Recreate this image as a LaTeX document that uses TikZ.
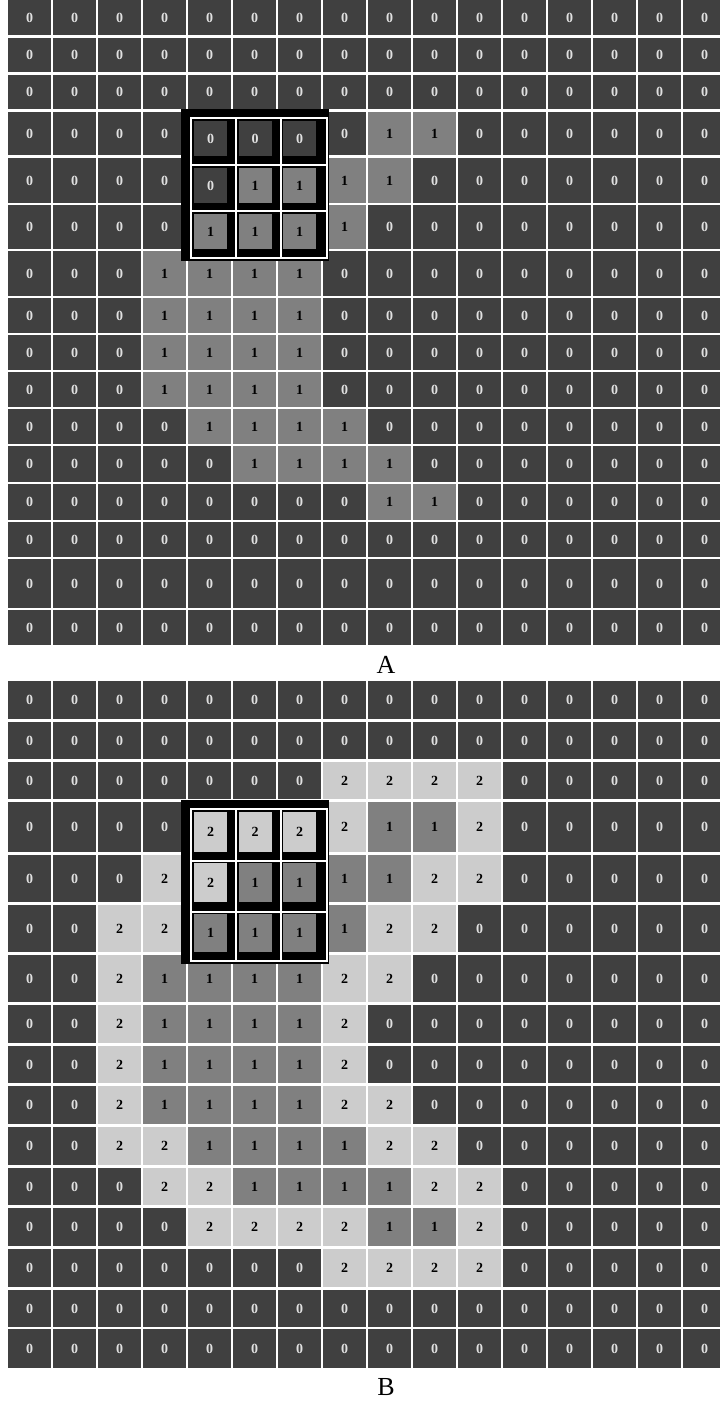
\documentclass[tikz,border=0pt]{standalone}
\usepackage{fontspec}
\setmainfont{Liberation Serif}
\definecolor{fill0}{HTML}{404040}
\definecolor{fill1}{HTML}{808080}
\definecolor{fill2}{HTML}{CCCCCC}
\definecolor{ink0}{HTML}{E0E0E0}
\definecolor{ink1}{HTML}{000000}
\definecolor{ink2}{HTML}{000000}
\newcommand\grabrow[1]{#1}
\tikzset{
  cell/.style={rectangle, inner sep=0pt, anchor=north west, minimum width=43pt,
    font=\fontsize{14}{14}\selectfont\bfseries},
  kcell/.style={cell, minimum width=33pt},
  kframe/.style={white, line width=1.4pt},
  gridlabel/.style={font=\fontsize{26}{26}\selectfont}
}
\begin{document}
\begin{tikzpicture}[x=1pt,y=-1pt]
\fill[white] (0,0) rectangle (720,1403);
\useasboundingbox (0,0) rectangle (720,1403);

% grid A (cells under the kernel are left out)
\foreach \t/\b/\vals [count=\r from 0] in {
  0/35/{0,0,0,0,0,0,0,0,0,0,0,0,0,0,0,0},
  38/72/{0,0,0,0,0,0,0,0,0,0,0,0,0,0,0,0},
  75/109/{0,0,0,0,0,0,0,0,0,0,0,0,0,0,0,0},
  112/155/{0,0,0,0,0,0,0,0,1,1,0,0,0,0,0,0},
  158/203/{0,0,0,0,0,1,1,1,1,0,0,0,0,0,0,0},
  205/249/{0,0,0,0,1,1,1,1,0,0,0,0,0,0,0,0},
  251/296/{0,0,0,1,1,1,1,0,0,0,0,0,0,0,0,0},
  298/333/{0,0,0,1,1,1,1,0,0,0,0,0,0,0,0,0},
  335/370/{0,0,0,1,1,1,1,0,0,0,0,0,0,0,0,0},
  372/407/{0,0,0,1,1,1,1,0,0,0,0,0,0,0,0,0},
  409/444/{0,0,0,0,1,1,1,1,0,0,0,0,0,0,0,0},
  446/482/{0,0,0,0,0,1,1,1,1,0,0,0,0,0,0,0},
  484/520/{0,0,0,0,0,0,0,0,1,1,0,0,0,0,0,0},
  522/557/{0,0,0,0,0,0,0,0,0,0,0,0,0,0,0,0},
  559/608/{0,0,0,0,0,0,0,0,0,0,0,0,0,0,0,0},
  610/645/{0,0,0,0,0,0,0,0,0,0,0,0,0,0,0,0}}{
  \edef\rowvals{\expandafter\grabrow\vals}
  \foreach \x [count=\c from 0, evaluate=\x as \v using int(\x)] in \rowvals {
    \pgfmathtruncatemacro\hidden{and(\r>2,\r<6)*and(\c>3,\c<7)}
    \ifnum\hidden=0
      \node[cell, fill=fill\v, text=ink\v, minimum height=\b-\t] (a-\r-\c) at ({8+45*\c},\t) {\v};
    \fi
  }
}

% kernel over A
\fill[black] (181,109) rectangle (329,261);
\draw[kframe] (191,118) rectangle (327,258);
\draw[kframe] (236,118) -- (236,258) (281,118) -- (281,258)
  (191,165) -- (327,165) (191,211) -- (327,211);
\foreach \kr/\kt/\kh/\vals in {0/121/35/{0,0,0}, 1/168/35/{0,1,1}, 2/214/35/{1,1,1}}{
  \edef\rowvals{\expandafter\grabrow\vals}
  \foreach \x [count=\kc from 0, evaluate=\x as \v using int(\x)] in \rowvals
    \node[kcell, fill=fill\v, text=ink\v, minimum height=\kh] (ka-\kr-\kc) at ({194+44.5*\kc},\kt) {\v};
}

\node[gridlabel] (labA) at (386,665) {A};

% grid B (cells under the kernel are left out)
\foreach \t/\b/\vals [count=\r from 0] in {
  681/719/{0,0,0,0,0,0,0,0,0,0,0,0,0,0,0,0},
  722/759/{0,0,0,0,0,0,0,0,0,0,0,0,0,0,0,0},
  762/799/{0,0,0,0,0,0,0,2,2,2,2,0,0,0,0,0},
  802/852/{0,0,0,0,2,2,2,2,1,1,2,0,0,0,0,0},
  855/902/{0,0,0,2,2,1,1,1,1,2,2,0,0,0,0,0},
  905/952/{0,0,2,2,1,1,1,1,2,2,0,0,0,0,0,0},
  955/1002/{0,0,2,1,1,1,1,2,2,0,0,0,0,0,0,0},
  1005/1043/{0,0,2,1,1,1,1,2,0,0,0,0,0,0,0,0},
  1046/1083/{0,0,2,1,1,1,1,2,0,0,0,0,0,0,0,0},
  1086/1124/{0,0,2,1,1,1,1,2,2,0,0,0,0,0,0,0},
  1127/1165/{0,0,2,2,1,1,1,1,2,2,0,0,0,0,0,0},
  1168/1205/{0,0,0,2,2,1,1,1,1,2,2,0,0,0,0,0},
  1208/1246/{0,0,0,0,2,2,2,2,1,1,2,0,0,0,0,0},
  1249/1287/{0,0,0,0,0,0,0,2,2,2,2,0,0,0,0,0},
  1290/1327/{0,0,0,0,0,0,0,0,0,0,0,0,0,0,0,0},
  1329/1368/{0,0,0,0,0,0,0,0,0,0,0,0,0,0,0,0}}{
  \edef\rowvals{\expandafter\grabrow\vals}
  \foreach \x [count=\c from 0, evaluate=\x as \v using int(\x)] in \rowvals {
    \pgfmathtruncatemacro\hidden{and(\r>2,\r<6)*and(\c>3,\c<7)}
    \ifnum\hidden=0
      \node[cell, fill=fill\v, text=ink\v, minimum height=\b-\t] (b-\r-\c) at ({8+45*\c},\t) {\v};
    \fi
  }
}

% kernel over B
\fill[black] (181,800) rectangle (329,964);
\draw[kframe] (191,809) rectangle (327,961);
\draw[kframe] (236,809) -- (236,961) (281,809) -- (281,961)
  (191,861) -- (327,861) (191,912) -- (327,912);
\foreach \kr/\kt/\kh/\vals in {0/812/40/{2,2,2}, 1/863/39/{2,1,1}, 2/914/38/{1,1,1}}{
  \edef\rowvals{\expandafter\grabrow\vals}
  \foreach \x [count=\kc from 0, evaluate=\x as \v using int(\x)] in \rowvals
    \node[kcell, fill=fill\v, text=ink\v, minimum height=\kh] (kb-\kr-\kc) at ({194+44.5*\kc},\kt) {\v};
}

\node[gridlabel] (labB) at (386,1387) {B};
\end{tikzpicture}
\end{document}
